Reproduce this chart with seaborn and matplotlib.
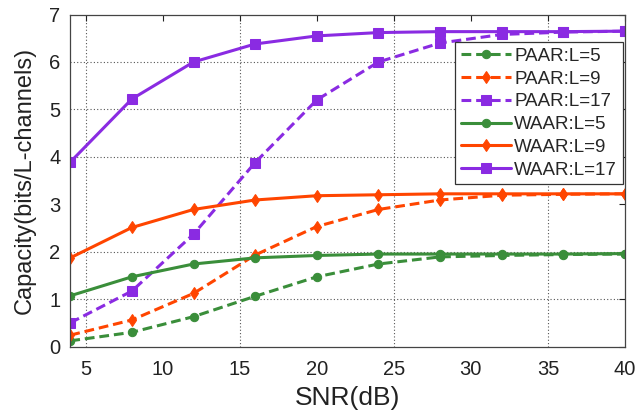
import matplotlib
matplotlib.use("Agg")
import matplotlib.pyplot as plt
import seaborn as sns
import pandas as pd

snr = [4, 8, 12, 16, 20, 24, 28, 32, 36, 40]

paar_l5 = [0.12, 0.30, 0.63, 1.06, 1.47, 1.74, 1.89, 1.92, 1.94, 1.95]
paar_l9 = [0.24, 0.56, 1.12, 1.93, 2.53, 2.89, 3.09, 3.19, 3.21, 3.22]
paar_l17 = [0.50, 1.17, 2.37, 3.88, 5.20, 6.00, 6.40, 6.58, 6.63, 6.65]
waar_l5 = [1.07, 1.47, 1.74, 1.87, 1.92, 1.95, 1.95, 1.95, 1.95, 1.96]
waar_l9 = [1.87, 2.51, 2.89, 3.09, 3.18, 3.20, 3.22, 3.22, 3.22, 3.22]
waar_l17 = [3.89, 5.22, 6.00, 6.38, 6.55, 6.62, 6.64, 6.64, 6.64, 6.65]

labels = ["PAAR:L=5", "PAAR:L=9", "PAAR:L=17", "WAAR:L=5", "WAAR:L=9", "WAAR:L=17"]
series = [paar_l5, paar_l9, paar_l17, waar_l5, waar_l9, waar_l17]

green = "#3a8e3a"
orange = "#ff4500"
purple = "#8a2be2"
colors = [green, orange, purple, green, orange, purple]
markers = ["o", "d", "s", "o", "d", "s"]
msizes = [6, 6, 6.5, 6, 6, 6.5]
dashed = [True, True, True, False, False, False]

sns.set_style("white")
plt.rcParams["font.family"] = ["Liberation Sans", "DejaVu Sans"]

fig = plt.figure(figsize=(6.39, 4.16), dpi=100)
ax = fig.add_axes([0.110, 0.167, 0.868, 0.798])

rows = []
for lab, vals in zip(labels, series):
    for x, y in zip(snr, vals):
        rows.append({"SNR": x, "Capacity": y, "Series": lab})
df = pd.DataFrame(rows)

for lab, c, m, ms, d in zip(labels, colors, markers, msizes, dashed):
    sub = df[df["Series"] == lab]
    line_kw = dict(color=c, marker=m, markersize=ms, markeredgecolor=c,
                   markerfacecolor=c, linewidth=2.2, label=lab, ax=ax)
    sns.lineplot(data=sub, x="SNR", y="Capacity", **line_kw)
    if d:
        ax.lines[-1].set_dashes((3.2, 1.6))

# dotted grid (as visible in reference)
for gx in [5, 15, 25, 35]:
    ax.axvline(gx, color="#555555", linestyle=(0, (1, 2)), linewidth=0.8, zorder=0)
for gy in [1, 2, 4, 5, 6]:
    ax.axhline(gy, color="#555555", linestyle=(0, (1, 2)), linewidth=0.8, zorder=0)

ax.set_xlim(4, 40)
ax.set_ylim(0, 7)
ax.set_xticks([5, 10, 15, 20, 25, 30, 35, 40])
ax.set_yticks([0, 1, 2, 3, 4, 5, 6, 7])
ax.tick_params(direction="in", top=True, right=True, length=4, width=0.8,
               labelsize=14.5, colors="#222222", labelcolor="#222222")
ax.tick_params(axis="x", pad=10)
ax.tick_params(axis="y", pad=7)
for s in ax.spines.values():
    s.set_color("#444444")
    s.set_linewidth(0.9)

ax.set_xlabel("SNR(dB)", fontsize=19, color="#222222", labelpad=5)
ax.set_ylabel("Capacity(bits/L-channels)", fontsize=17, color="#222222", labelpad=10)

leg = ax.legend(loc="upper right", bbox_to_anchor=(0.996, 0.917), borderaxespad=0,
                fontsize=13.5, frameon=True, fancybox=False, framealpha=1,
                edgecolor="#333333", handlelength=2.7, labelspacing=0.3,
                handletextpad=0.15, borderpad=0.3)
leg.get_frame().set_linewidth(0.9)

fig.savefig("out.png", dpi=100)
